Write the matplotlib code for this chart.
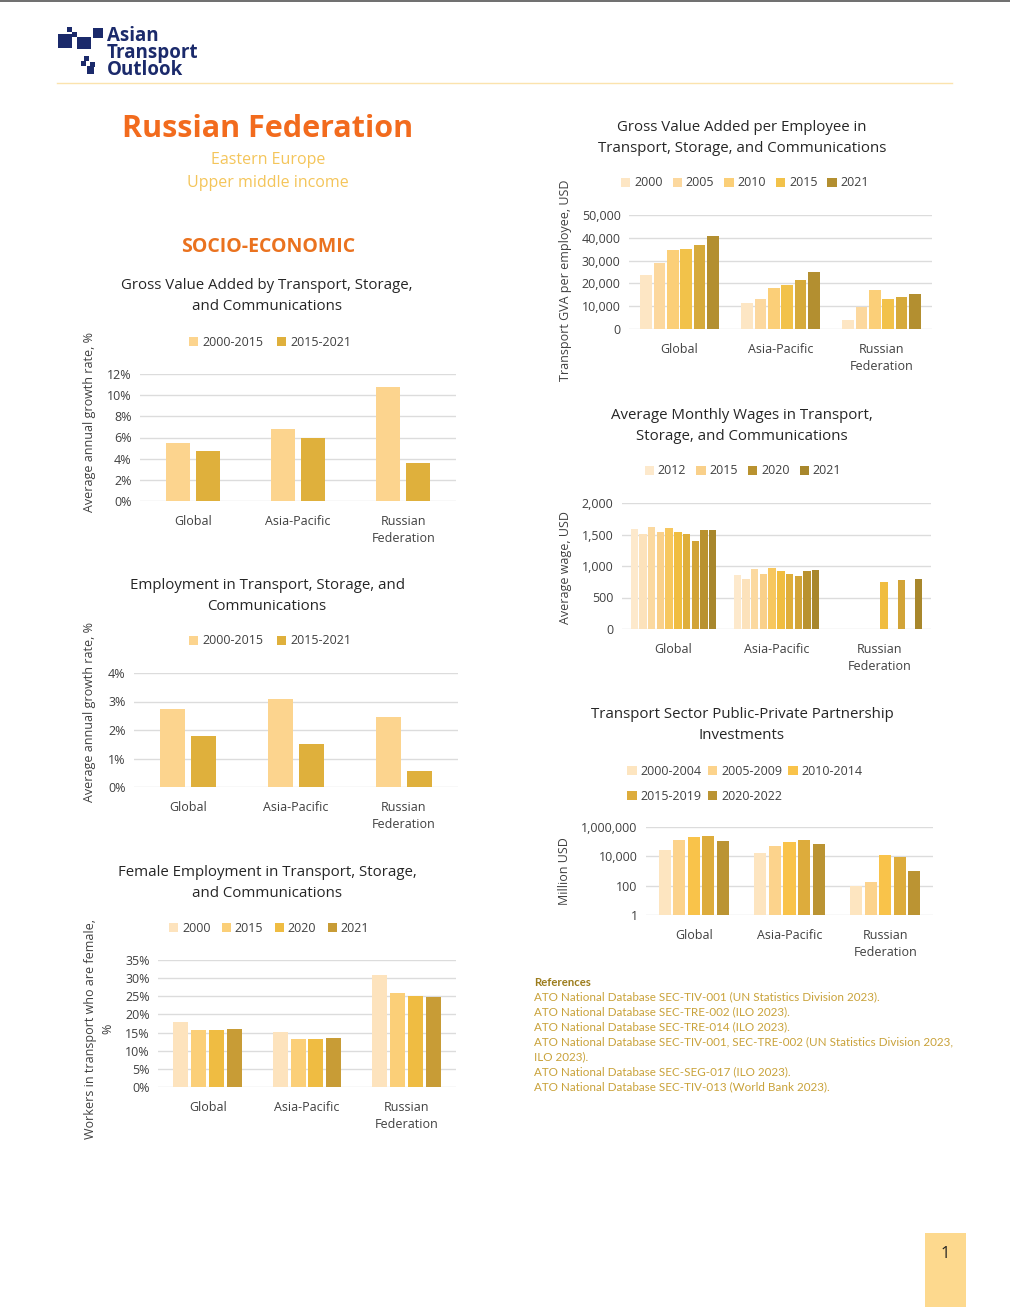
import numpy as np
import matplotlib
matplotlib.use("Agg")
import matplotlib.pyplot as plt
from matplotlib.patches import Rectangle
from matplotlib.ticker import FixedLocator, FuncFormatter, NullLocator

plt.rcParams['font.family'] = ['Open Sans', 'DejaVu Sans']

# ---------------- data ----------------
categories = ["Global", "Asia-Pacific", "Russian\nFederation"]

gva_growth_periods = ["2000-2015", "2015-2021"]
gva_growth = [[5.5, 6.8, 10.8], [4.7, 6.0, 3.6]]

emp_growth_periods = ["2000-2015", "2015-2021"]
emp_growth = [[2.75, 3.1, 2.47], [1.8, 1.5, 0.57]]

female_years = ["2000", "2015", "2020", "2021"]
female_share = [[18.0, 15.2, 30.8], [15.6, 13.1, 25.8], [15.6, 13.1, 25.0], [16.1, 13.4, 24.8]]

gva_emp_years = ["2000", "2005", "2010", "2015", "2020", "2021"]
gva_emp_legend = ["2000", "2005", "2010", "2015", "2021"]
gva_emp = [[23500, 11300, 4000], [28800, 13000, 9800], [34500, 17900, 16900],
           [35000, 19200, 13000], [36800, 21300, 13900], [41000, 24900, 15200]]

wage_years = ["2012", "2013", "2014", "2015", "2016", "2017", "2018", "2019", "2020", "2021"]
wage_legend = ["2012", "2015", "2020", "2021"]
wage_global = [1590, 1511, 1612, 1532, 1596, 1532, 1505, 1394, 1564, 1564]
wage_asia = [862, 798, 957, 878, 973, 926, 878, 846, 926, 941]
wage_russia = [np.nan, np.nan, np.nan, np.nan, np.nan, 750, np.nan, 782, np.nan, 798]

ppp_periods = ["2000-2004", "2005-2009", "2010-2014", "2015-2019", "2020-2022"]
ppp = [[28000, 17000, 100], [138000, 53000, 186], [209000, 100000, 13000],
       [257000, 138000, 9500], [117000, 73000, 1050]]

references = [
    "ATO National Database SEC-TIV-001 (UN Statistics Division 2023).",
    "ATO National Database SEC-TRE-002 (ILO 2023).",
    "ATO National Database SEC-TRE-014 (ILO 2023).",
    "ATO National Database SEC-TIV-001, SEC-TRE-002 (UN Statistics Division 2023,",
    "ILO 2023).",
    "ATO National Database SEC-SEG-017 (ILO 2023).",
    "ATO National Database SEC-TIV-013 (World Bank 2023).",
]

# ---------------- style ----------------
W, H = 1010, 1307
fig = plt.figure(figsize=(W / 100, H / 100), dpi=100)
fig.patch.set_facecolor("white")

TXT = "#404040"
GRID = "#dcdcdc"
FS = 9

col2 = ["#fcd48e", "#dfb03c"]
col4 = ["#fde3bd", "#fbcf78", "#efbc42", "#c89c36"]
col6 = ["#fde6c4", "#fcd89e", "#fbcf78", "#f2c24a", "#d6aa3b", "#b38f30"]
col10 = ["#fde9cc", "#fce2bb", "#fbd9a0", "#f9d08a", "#f7c75e", "#f0bd40",
         "#dfae3a", "#d2a438", "#b9922f", "#a8872c"]
col5 = ["#fde5c0", "#fcd38c", "#f9c34a", "#ddac3c", "#bb9433"]


def px_axes(x0, y0, x1, y1):
    return fig.add_axes([x0 / W, 1 - y1 / H, (x1 - x0) / W, (y1 - y0) / H])


def style_ax(ax):
    for s in ax.spines.values():
        s.set_visible(False)
    ax.yaxis.grid(True, color=GRID, linewidth=1.0)
    ax.set_axisbelow(True)
    ax.tick_params(axis="both", length=0, labelsize=FS, colors=TXT)
    ax.tick_params(axis="x", pad=10)
    ax.tick_params(axis="y", pad=6)


def bars(ax, data, colors, pitch, width):
    n = len(data)
    x = np.arange(len(categories))
    handles = []
    for i, vals in enumerate(data):
        off = (i - (n - 1) / 2) * pitch
        b = ax.bar(x + off, vals, width=width, color=colors[i], linewidth=0)
        handles.append(b)
    ax.set_xticks(x)
    ax.set_xticklabels(categories, fontsize=FS, color=TXT, linespacing=1.4)
    ax.set_xlim(-0.5, len(categories) - 0.5)
    return handles


def legend(ax, handles, labels, cx, cy, ncol=None, spacing=1.2):
    leg = ax.legend(handles, labels, loc="center", bbox_to_anchor=(cx / W, 1 - cy / H),
                    bbox_transform=fig.transFigure, ncol=ncol or len(labels), frameon=False,
                    handlelength=0.75, handleheight=0.75, handletextpad=0.3,
                    columnspacing=spacing, fontsize=FS, labelcolor=TXT, borderpad=0,
                    labelspacing=1.0)
    return leg


def title(text, cx, cy):
    fig.text(cx / W, 1 - cy / H, text, ha="center", va="center", fontsize=10.8,
             color="#262626", linespacing=1.55)


def ylabel(text, cx, cy, fs=FS):
    fig.text(cx / W, 1 - cy / H, text, ha="center", va="center", rotation=90,
             fontsize=fs, color=TXT, linespacing=1.4)


pct = FuncFormatter(lambda v, p: f"{v:.0f}%")
comma = FuncFormatter(lambda v, p: f"{v:,.0f}")

# ---------------- header ----------------
fig.add_artist(plt.Line2D([0, 1], [1 - 0.5 / H, 1 - 0.5 / H], color="#555555", linewidth=1.2))
fig.add_artist(plt.Line2D([57 / W, 952 / W], [1 - 83 / H, 1 - 83 / H], color="#fbe3ad", linewidth=1))
NAVY = "#1b2a6b"
for (x0, y0, x1, y1) in [(58, 34, 72, 48), (67, 27, 72, 32), (77, 37, 91, 49), (93, 28, 103, 38),
                         (84, 56, 89, 61), (90, 62, 95, 67), (87, 66, 94, 74), (81, 61, 86, 66),
                         (72, 32, 77, 37)]:
    fig.add_artist(Rectangle((x0 / W, 1 - y1 / H), (x1 - x0) / W, (y1 - y0) / H,
                             transform=fig.transFigure, color=NAVY, linewidth=0))
fig.text(107 / W, 1 - 53 / H, "Asian\nTransport\nOutlook", ha="left", va="center",
         fontsize=13.5, fontweight="bold", color=NAVY, linespacing=0.82)

fig.text(268 / W, 1 - 129 / H, "Russian Federation", ha="center", va="center", fontsize=22,
         fontweight="bold", color="#f26b1d")
fig.text(268 / W, 1 - 160 / H, "Eastern Europe", ha="center", va="center", fontsize=11.5,
         color="#f4c55a")
fig.text(268 / W, 1 - 183 / H, "Upper middle income", ha="center", va="center", fontsize=11.5,
         color="#f4c55a")
fig.text(268 / W, 1 - 247 / H, "SOCIO-ECONOMIC", ha="center", va="center", fontsize=14,
         fontweight="bold", color="#ea721f")

# ---------------- chart 1: GVA growth ----------------
ax1 = px_axes(140, 374, 456, 501)
style_ax(ax1)
h = bars(ax1, gva_growth, col2, 0.285, 0.23)
ax1.set_ylim(0, 12)
ax1.yaxis.set_major_locator(FixedLocator([0, 2, 4, 6, 8, 10, 12]))
ax1.yaxis.set_major_formatter(pct)
title("Gross Value Added by Transport, Storage,\nand Communications", 267, 296)
legend(ax1, h, gva_growth_periods, 270, 342, spacing=1.1)
ylabel("Average annual growth rate, %", 90, 422)

# ---------------- chart 2: employment growth ----------------
ax2 = px_axes(134, 673, 458, 787)
style_ax(ax2)
h = bars(ax2, emp_growth, col2, 0.287, 0.23)
ax2.set_ylim(0, 4)
ax2.yaxis.set_major_locator(FixedLocator([0, 1, 2, 3, 4]))
ax2.yaxis.set_major_formatter(pct)
title("Employment in Transport, Storage, and\nCommunications", 267, 596)
legend(ax2, h, emp_growth_periods, 270, 641, spacing=1.1)
ylabel("Average annual growth rate, %", 90, 712)

# ---------------- chart 3: female employment ----------------
ax3 = px_axes(158, 960, 456, 1087)
style_ax(ax3)
h = bars(ax3, female_share, col4, 0.18, 0.15)
ax3.set_ylim(0, 35)
ax3.yaxis.set_major_locator(FixedLocator([0, 5, 10, 15, 20, 25, 30, 35]))
ax3.yaxis.set_major_formatter(pct)
title("Female Employment in Transport, Storage,\nand Communications", 267, 883)
legend(ax3, h, female_years, 269, 928, spacing=0.9)
ylabel("Workers in transport who are female,\n%", 99, 1029)

# ---------------- chart 4: GVA per employee ----------------
ax4 = px_axes(629, 215, 932, 329)
style_ax(ax4)
h = bars(ax4, gva_emp, col6, 0.132, 0.114)
ax4.set_ylim(0, 50000)
ax4.yaxis.set_major_locator(FixedLocator([0, 10000, 20000, 30000, 40000, 50000]))
ax4.yaxis.set_major_formatter(comma)
title("Gross Value Added per Employee in\nTransport, Storage, and Communications", 742, 138)
hl = [h[i] for i, y in enumerate(gva_emp_years) if y in gva_emp_legend]
legend(ax4, hl, gva_emp_legend, 745, 183, spacing=0.8)
ylabel("Transport GVA per employee, USD", 565, 280)

# ---------------- chart 5: wages ----------------
ax5 = px_axes(622, 503, 931, 629)
style_ax(ax5)
h = bars(ax5, [[wage_global[i], wage_asia[i], wage_russia[i]] for i in range(len(wage_years))],
         col10, 0.0845, 0.071)
ax5.set_ylim(0, 2000)
ax5.yaxis.set_major_locator(FixedLocator([0, 500, 1000, 1500, 2000]))
ax5.yaxis.set_major_formatter(comma)
title("Average Monthly Wages in Transport,\nStorage, and Communications", 742, 426)
hl = [h[wage_years.index(y)] for y in wage_legend]
legend(ax5, hl, wage_legend, 743, 471, spacing=0.8)
ylabel("Average wage, USD", 565, 567)

# ---------------- chart 6: PPP ----------------
ax6 = px_axes(646, 827, 933, 915)
style_ax(ax6)
n = len(ppp)
xs = np.arange(len(categories))
h = []
for i, vals in enumerate(ppp):
    off = (i - (n - 1) / 2) * 0.152
    h.append(ax6.bar(xs + off, np.array(vals) - 1, bottom=1, width=0.126, color=col5[i], linewidth=0))
ax6.set_yscale("log")
ax6.set_ylim(1, 1e6)
ax6.set_xticks(xs)
ax6.set_xticklabels(categories, fontsize=FS, color=TXT, linespacing=1.4)
ax6.set_xlim(-0.5, 2.5)
ax6.yaxis.set_major_locator(FixedLocator([1, 100, 10000, 1000000]))
ax6.yaxis.set_minor_locator(NullLocator())
ax6.yaxis.set_major_formatter(comma)
ax6.tick_params(axis="both", length=0, labelsize=FS, colors=TXT)
title("Transport Sector Public-Private Partnership\nInvestments", 742, 725)
order = [0, 3, 1, 4, 2]
legend(ax6, [h[i] for i in order], [ppp_periods[i] for i in order], 745, 784, ncol=3, spacing=0.5)
ylabel("Million USD", 565, 871)

# ---------------- references ----------------
REF_FONT = ["Lato", "DejaVu Sans"]
fig.text(534 / W, 1 - 982 / H, "References", ha="left", va="center", fontsize=8.2,
         fontweight="bold", color="#9c7c1c", family=REF_FONT)
for i, r in enumerate(references):
    fig.text(534 / W, 1 - (997 + 15 * i) / H, r, ha="left", va="center", fontsize=8.4,
             color="#c9a23a", family=REF_FONT)

# ---------------- page number ----------------
fig.add_artist(Rectangle((925 / W, 0), 41 / W, (H - 1233) / H, transform=fig.transFigure,
                         color="#fdd98e", linewidth=0))
fig.text(945.5 / W, 1 - 1254 / H, "1", ha="center", va="center", fontsize=12, color="#222222")

fig.savefig("out.png", dpi=100, facecolor="white")
